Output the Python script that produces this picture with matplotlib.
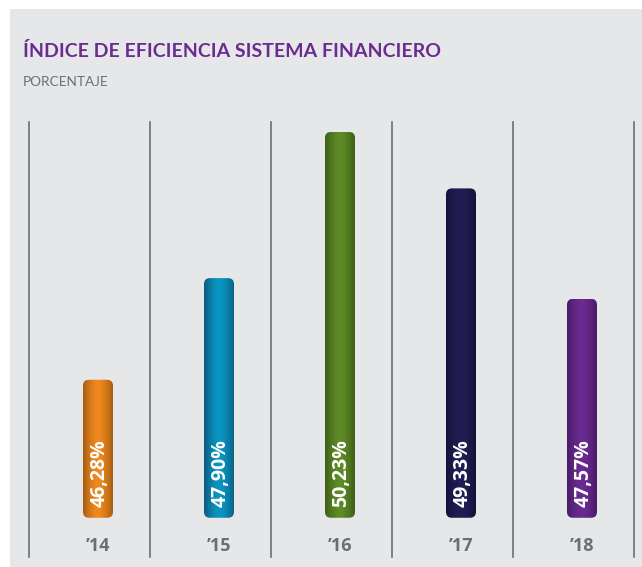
import numpy as np
import matplotlib.pyplot as plt
from matplotlib.patches import FancyBboxPatch, Rectangle
from matplotlib.colors import to_rgb

years = ["\u201914", "\u201915", "\u201916", "\u201917", "\u201918"]
values = [46.28, 47.90, 50.23, 49.33, 47.57]
labels = ["46,28%", "47,90%", "50,23%", "49,33%", "47,57%"]
centers = ["#f08a1e", "#0b96c4", "#5f8c26", "#221e55", "#6b2b93"]
edges = ["#a65d12", "#0a5d7e", "#3d5f18", "#14123a", "#481c66"]

title = "ÍNDICE DE EFICIENCIA SISTEMA FINANCIERO"
subtitle = "PORCENTAJE"

W, H = 642, 567
fig = plt.figure(figsize=(W / 100, H / 100), dpi=100)
fig.patch.set_facecolor("white")
fig.patches.append(Rectangle((10 / W, 0), 1, 1 - 9 / H, transform=fig.transFigure,
                             facecolor="#e6e7e8", edgecolor="none", zorder=-10))

ax = fig.add_axes([0, 0, 1, 1])
ax.set_axis_off()
px_x, px_y = 121.0, 62.74
ax.set_xlim(-98 / px_x, (W - 98) / px_x)
ax.set_ylim(48.262 - (H - 255.4) / px_y, 48.262 + 255.4 / px_y)
base = 44.08
bar_w = 30 / px_x

# separators
for i in range(len(values) + 1):
    ax.axvline(i - 0.57, ymin=1 - 557 / H, ymax=1 - 122 / H, color="#6d6e71", lw=1.2)

n = 64
t = np.abs(np.linspace(-1, 1, n)) ** 1.5
for i, (v, lab, c, e) in enumerate(zip(values, labels, centers, edges)):
    x0 = i - bar_w / 2
    patch = FancyBboxPatch((x0, base), bar_w, v - base,
                           boxstyle="round,pad=0,rounding_size=%f" % (6 / px_x),
                           mutation_aspect=px_x / px_y, facecolor="none",
                           edgecolor="none")
    ax.add_patch(patch)
    cc, ee = np.array(to_rgb(c)), np.array(to_rgb(e))
    grad = (cc[None, :] * (1 - t[:, None]) + ee[None, :] * t[:, None])[None, :, :]
    im = ax.imshow(grad, extent=(x0, x0 + bar_w, base, v), aspect="auto",
                   interpolation="bilinear", zorder=2)
    im.set_clip_path(patch)
    ax.annotate(lab, (i, base), xytext=(1.0, 8), textcoords="offset points",
                rotation=90, ha="center", va="bottom", color="white",
                fontsize=14, fontweight="bold", family="Open Sans", zorder=3)
    ax.annotate(years[i], (i, base), xytext=(0, -20), textcoords="offset points",
                ha="center", va="center", color="#6d6e71",
                fontsize=13, fontweight="bold", family="Open Sans")

fig.text(23 / W, 1 - 57 / H, title, color="#6b2c91", fontsize=14,
         fontweight="bold", family="Lato", va="baseline", ha="left")
fig.text(23 / W, 1 - 86 / H, subtitle, color="#6d6e71", fontsize=9.8,
         family="Lato", va="baseline", ha="left")

fig.savefig("out.png", dpi=100)
